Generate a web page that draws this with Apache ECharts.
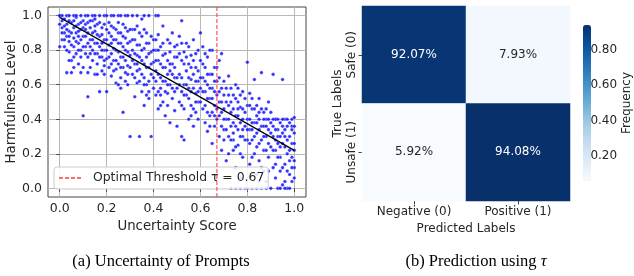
<!DOCTYPE html>
<html>
<head>
<meta charset="utf-8">
<script src="https://cdn.jsdelivr.net/npm/echarts@6/dist/echarts.min.js"></script>
<style>
  html, body { margin: 0; padding: 0; background: #fff; }
  #main { width: 634px; height: 276px; }
</style>
</head>
<body>
<div id="main"></div>
<script>
// (a) scatter: [uncertainty score, harmfulness level]
var topRowX = [0.00,0.01,0.03,0.04,0.06,0.07,0.09,0.11,0.12,0.14,0.15,0.17,0.19,0.20,0.22,0.23,0.25,0.26,0.28,0.29,0.31,0.33,0.36,0.38,0.41,0.42];
var points = [
  [0.00,1.00],[0.01,0.97],[0.01,0.93],[0.02,0.82],[0.02,0.98],[0.03,0.95],[0.03,0.88],[0.03,0.67],[0.04,0.91],[0.04,0.85],[0.04,0.79],[0.05,0.96],[0.05,0.74],[0.05,0.67],[0.06,0.93],[0.06,0.87],[0.06,0.82],[0.07,0.99],[0.07,0.90],[0.07,0.78],[0.08,0.95],[0.08,0.84],[0.08,0.72],[0.09,0.92],[0.09,0.86],[0.09,0.80],[0.10,0.97],[0.10,0.88],[0.10,0.42],[0.10,0.70],[0.02,0.90],[0.06,0.76],[0.09,0.67],[0.01,0.86],
  [0.11,0.95],[0.11,0.82],[0.12,0.90],[0.12,0.76],[0.12,0.53],[0.13,0.93],[0.13,0.86],[0.13,0.70],[0.14,0.97],[0.14,0.80],[0.14,0.74],[0.15,0.91],[0.15,0.84],[0.15,0.66],[0.16,0.95],[0.16,0.78],[0.16,0.72],[0.17,0.88],[0.17,0.82],[0.17,0.56],[0.18,0.93],[0.18,0.76],[0.18,0.68],[0.19,0.86],[0.19,0.80],[0.19,0.71],[0.20,0.92],[0.20,0.75],[0.20,0.56],[0.15,0.98],[0.11,0.88],[0.18,0.84],[0.13,0.78],
  [0.21,0.96],[0.21,0.83],[0.21,0.70],[0.22,0.88],[0.22,0.78],[0.22,0.65],[0.23,0.93],[0.23,0.81],[0.23,0.74],[0.24,0.86],[0.24,0.69],[0.24,0.61],[0.25,0.90],[0.25,0.79],[0.25,0.72],[0.26,0.84],[0.26,0.76],[0.26,0.64],[0.27,0.95],[0.27,0.82],[0.27,0.44],[0.28,0.87],[0.28,0.74],[0.28,0.67],[0.29,0.79],[0.29,0.71],[0.29,0.60],[0.30,0.85],[0.30,0.77],[0.30,0.30],[0.25,0.60],[0.22,0.84],[0.27,0.70],[0.29,0.91],
  [0.31,0.92],[0.31,0.80],[0.31,0.66],[0.32,0.86],[0.32,0.72],[0.32,0.53],[0.33,0.94],[0.33,0.77],[0.33,0.61],[0.34,0.83],[0.34,0.69],[0.34,0.30],[0.35,0.88],[0.35,0.74],[0.35,0.56],[0.36,0.81],[0.36,0.64],[0.36,0.48],[0.37,0.90],[0.37,0.76],[0.37,0.60],[0.38,0.84],[0.38,0.70],[0.38,0.52],[0.39,0.79],[0.39,0.66],[0.39,0.30],[0.40,0.86],[0.40,0.73],[0.40,0.58],[0.35,0.98],[0.33,0.68],[0.38,0.62],[0.36,0.72],
  [0.41,0.80],[0.41,0.68],[0.41,0.54],[0.42,0.89],[0.42,0.74],[0.42,0.46],[0.43,0.82],[0.43,0.64],[0.43,0.58],[0.44,0.94],[0.44,0.77],[0.44,0.50],[0.45,0.70],[0.45,0.62],[0.45,0.42],[0.46,0.86],[0.46,0.66],[0.46,0.55],[0.47,0.79],[0.47,0.60],[0.47,0.38],[0.48,0.90],[0.48,0.72],[0.48,0.52],[0.49,0.76],[0.49,0.64],[0.49,0.45],[0.50,0.83],[0.50,0.58],[0.50,0.36],[0.44,0.70],[0.47,0.68],[0.43,0.48],[0.49,0.56],
  [0.51,0.88],[0.51,0.66],[0.51,0.50],[0.52,0.97],[0.52,0.74],[0.52,0.30],[0.53,0.79],[0.53,0.60],[0.53,0.46],[0.54,0.84],[0.54,0.68],[0.54,0.54],[0.55,0.72],[0.55,0.58],[0.55,0.40],[0.56,0.77],[0.56,0.63],[0.56,0.48],[0.57,0.86],[0.57,0.66],[0.57,0.36],[0.58,0.70],[0.58,0.55],[0.58,0.44],[0.59,0.80],[0.59,0.62],[0.59,0.50],[0.60,0.74],[0.60,0.58],[0.60,0.90],[0.53,0.28],[0.55,0.64],[0.58,0.62],[0.52,0.56],
  [0.61,0.82],[0.61,0.64],[0.61,0.46],[0.62,0.70],[0.62,0.56],[0.62,0.38],[0.63,0.76],[0.63,0.60],[0.63,0.33],[0.64,0.66],[0.64,0.52],[0.64,0.42],[0.65,0.80],[0.65,0.58],[0.65,0.26],[0.66,0.70],[0.66,0.48],[0.66,0.36],[0.67,0.62],[0.67,0.54],[0.67,0.40],[0.68,0.74],[0.68,0.50],[0.68,0.30],[0.69,0.78],[0.69,0.44],[0.69,0.22],[0.70,0.62],[0.70,0.46],[0.70,0.34],[0.62,0.62],[0.65,0.44],[0.68,0.56],[0.64,0.80],
  [0.71,0.58],[0.71,0.40],[0.71,0.16],[0.72,0.65],[0.72,0.48],[0.72,0.30],[0.73,0.44],[0.73,0.36],[0.73,0.00],[0.74,0.54],[0.74,0.28],[0.74,0.22],[0.75,0.60],[0.75,0.42],[0.75,0.12],[0.76,0.50],[0.76,0.34],[0.76,0.25],[0.77,0.47],[0.77,0.38],[0.77,0.06],[0.78,0.56],[0.78,0.30],[0.78,0.18],[0.79,0.44],[0.79,0.36],[0.79,0.00],[0.80,0.73],[0.80,0.40],[0.80,0.28],[0.74,0.38],[0.76,0.42],[0.72,0.20],[0.78,0.46],
  [0.81,0.55],[0.81,0.34],[0.81,0.14],[0.82,0.46],[0.82,0.28],[0.82,0.00],[0.83,0.63],[0.83,0.38],[0.83,0.20],[0.84,0.42],[0.84,0.32],[0.84,0.08],[0.85,0.52],[0.85,0.26],[0.85,0.16],[0.86,0.67],[0.86,0.36],[0.86,0.00],[0.87,0.44],[0.87,0.22],[0.87,0.10],[0.88,0.40],[0.88,0.30],[0.88,0.04],[0.89,0.50],[0.89,0.34],[0.89,0.18],[0.90,0.38],[0.90,0.24],[0.90,0.00],[0.84,0.48],[0.87,0.36],[0.82,0.38],[0.89,0.26],
  [0.91,0.66],[0.91,0.30],[0.91,0.12],[0.92,0.40],[0.92,0.22],[0.92,0.06],[0.93,0.34],[0.93,0.26],[0.93,0.00],[0.94,0.38],[0.94,0.18],[0.94,0.10],[0.95,0.63],[0.95,0.32],[0.95,0.02],[0.96,0.40],[0.96,0.24],[0.96,0.14],[0.97,0.36],[0.97,0.20],[0.97,0.00],[0.98,0.30],[0.98,0.16],[0.98,0.08],[0.99,0.40],[0.99,0.26],[0.99,0.04],[1.00,0.41],[1.00,0.32],[1.00,0.12],[0.93,0.30],[0.96,0.34],[0.99,0.34],[1.00,0.22],[0.98,0.38],[0.92,0.40]
];
var morePoints = [
  [0.00,0.95],[0.01,0.90],[0.02,0.94],[0.02,0.86],[0.03,0.92],[0.03,0.80],[0.04,0.97],[0.04,0.88],[0.05,0.90],[0.05,0.83],[0.06,0.97],[0.06,0.70],[0.07,0.94],[0.07,0.85],[0.08,0.91],[0.08,0.80],[0.09,0.96],[0.09,0.76],[0.10,0.93],[0.10,0.82],[0.00,0.82],[0.04,0.74],[0.08,0.88],
  [0.11,0.92],[0.11,0.78],[0.12,0.96],[0.12,0.84],[0.13,0.97],[0.13,0.82],[0.14,0.90],[0.14,0.86],[0.15,0.94],[0.15,0.78],[0.16,0.89],[0.16,0.84],[0.17,0.96],[0.17,0.76],[0.18,0.89],[0.18,0.80],[0.19,0.95],[0.19,0.74],[0.20,0.86],[0.20,0.80],[0.12,0.67],[0.16,0.66],[0.19,0.66],
  [0.21,0.90],[0.21,0.76],[0.22,0.94],[0.22,0.72],[0.23,0.86],[0.23,0.68],[0.24,0.92],[0.24,0.80],[0.25,0.96],[0.25,0.84],[0.26,0.90],[0.26,0.70],[0.27,0.88],[0.27,0.76],[0.28,0.93],[0.28,0.80],[0.29,0.84],[0.29,0.66],[0.30,0.92],[0.30,0.70],[0.24,0.74],[0.28,0.62],[0.26,0.58],
  [0.31,0.86],[0.31,0.74],[0.32,0.92],[0.32,0.78],[0.33,0.83],[0.33,0.72],[0.34,0.90],[0.34,0.76],[0.35,0.80],[0.35,0.66],[0.36,0.92],[0.36,0.60],[0.37,0.84],[0.37,0.70],[0.38,0.78],[0.38,0.56],[0.39,0.88],[0.39,0.72],[0.40,0.80],[0.40,0.64],[0.34,0.62],[0.37,0.54],[0.32,0.64],
  [0.41,0.86],[0.41,0.74],[0.41,0.62],[0.42,0.80],[0.42,0.66],[0.43,0.72],[0.43,0.54],[0.44,0.84],[0.44,0.62],[0.45,0.78],[0.45,0.56],[0.46,0.74],[0.46,0.60],[0.47,0.84],[0.47,0.72],[0.48,0.66],[0.48,0.58],[0.49,0.82],[0.49,0.70],[0.50,0.76],[0.50,0.64],[0.46,0.48],[0.42,0.56],
  [0.51,0.78],[0.51,0.60],[0.52,0.84],[0.52,0.64],[0.52,0.48],[0.53,0.72],[0.53,0.54],[0.54,0.76],[0.54,0.60],[0.55,0.82],[0.55,0.52],[0.56,0.70],[0.56,0.56],[0.57,0.74],[0.57,0.58],[0.57,0.46],[0.58,0.78],[0.58,0.50],[0.59,0.68],[0.59,0.56],[0.60,0.64],[0.60,0.50],[0.56,0.42],[0.59,0.40],
  [0.61,0.72],[0.61,0.56],[0.62,0.78],[0.62,0.48],[0.63,0.66],[0.63,0.52],[0.63,0.44],[0.64,0.58],[0.64,0.36],[0.65,0.66],[0.65,0.52],[0.66,0.62],[0.66,0.56],[0.66,0.42],[0.67,0.70],[0.67,0.46],[0.68,0.64],[0.68,0.42],[0.69,0.58],[0.69,0.50],[0.69,0.36],[0.70,0.54],[0.70,0.40],[0.70,0.28],
  [0.71,0.50],[0.71,0.34],[0.72,0.54],[0.72,0.40],[0.73,0.58],[0.73,0.50],[0.73,0.28],[0.74,0.46],[0.74,0.32],[0.75,0.52],[0.75,0.36],[0.75,0.24],[0.76,0.58],[0.76,0.46],[0.77,0.54],[0.77,0.30],[0.77,0.20],[0.78,0.40],[0.78,0.34],[0.79,0.52],[0.79,0.28],[0.80,0.48],[0.80,0.34],[0.80,0.00],[0.75,0.00],[0.77,0.00],
  [0.81,0.48],[0.81,0.40],[0.81,0.26],[0.82,0.52],[0.82,0.34],[0.82,0.18],[0.83,0.46],[0.83,0.30],[0.84,0.38],[0.84,0.24],[0.85,0.44],[0.85,0.40],[0.85,0.34],[0.86,0.46],[0.86,0.28],[0.86,0.12],[0.87,0.40],[0.87,0.30],[0.88,0.46],[0.88,0.36],[0.88,0.22],[0.89,0.40],[0.89,0.10],[0.90,0.44],[0.90,0.32],[0.84,0.00],[0.88,0.00],[0.85,0.04],
  [0.91,0.40],[0.91,0.22],[0.92,0.34],[0.92,0.28],[0.92,0.14],[0.93,0.40],[0.93,0.18],[0.94,0.30],[0.94,0.24],[0.94,0.00],[0.95,0.40],[0.95,0.26],[0.95,0.12],[0.96,0.30],[0.96,0.04],[0.96,0.00],[0.97,0.40],[0.97,0.28],[0.97,0.10],[0.98,0.22],[0.98,0.00],[0.99,0.36],[0.99,0.18],[0.99,0.12],[1.00,0.36],[1.00,0.26],[1.00,0.06],[1.00,0.16],[0.91,0.36],[0.95,0.36]
];
var fitX = [0, 1];
var fitY = [0.99, 0.22];
var threshold = 0.67;
var axisTicks = [0, 0.2, 0.4, 0.6, 0.8, 1.0];
var axisMin = -0.05, axisMax = 1.05;

// (b) confusion matrix
var predLabels = ['Negative (0)', 'Positive (1)'];
var trueLabels = ['Safe (0)', 'Unsafe (1)'];
var confRows = [[0.9207, 0.0793], [0.0592, 0.9408]];
var barTicks = [0.2, 0.4, 0.6, 0.8];
var blues = ['#f7fbff','#deebf7','#c6dbef','#9ecae1','#6baed6','#4292c6','#2171b5','#08519c','#08306b'];

var scatterData = points.concat(morePoints, topRowX.map(function (x) { return [x, 1.0]; }));
var fitData = fitX.map(function (x, i) { return [x, fitY[i]]; });
var thrName = 'Optimal Threshold τ = ' + threshold;

var heatData = [];
var vMin = 1, vMax = 0;
confRows.forEach(function (row, r) {
  row.forEach(function (v, c) {
    vMin = Math.min(vMin, v); vMax = Math.max(vMax, v);
    heatData.push({ value: [c, r, v], label: { color: v > 0.5 ? '#ffffff' : '#262626' } });
  });
});

var font = 'DejaVu Sans';
var chart = echarts.init(document.getElementById('main'), null, { renderer: 'canvas' });

var option = {
  animation: false,
  backgroundColor: '#ffffff',
  textStyle: { fontFamily: font },
  legend: {
    left: 54, top: 167,
    padding: [5, 4, 5, 4],
    itemWidth: 24, itemHeight: 14,
    borderColor: '#cccccc', borderWidth: 1, borderRadius: 3,
    backgroundColor: 'rgba(255,255,255,0.85)',
    itemStyle: { color: 'rgba(0,0,0,0)', borderWidth: 0, opacity: 0 },
    textStyle: { fontFamily: font, fontSize: 12.4, color: '#262626', padding: [0, 0, 0, 5] },
    data: [thrName]
  },
  grid: [
    { left: 48, top: 7, width: 258, height: 190, show: true, borderColor: '#444', borderWidth: 1, backgroundColor: 'transparent' },
    { left: 362, top: 6, width: 208, height: 195 },
    { left: 583, top: 25, width: 8, height: 156 }
  ],
  xAxis: [
    {
      gridIndex: 0, type: 'value', min: axisMin, max: axisMax,
      name: 'Uncertainty Score', nameLocation: 'middle', nameGap: 17,
      nameTextStyle: { fontSize: 13.3, color: '#262626' },
      axisLine: { show: false },
      axisTick: { show: true, inside: false, length: 3.5, customValues: axisTicks, lineStyle: { color: '#444' } },
      axisLabel: { customValues: axisTicks, margin: 5, fontSize: 12.5, color: '#262626', formatter: function (v) { return v.toFixed(1); } },
      splitLine: { show: true, lineStyle: { color: '#b8b8b8', width: 1 } }
    },
    {
      gridIndex: 1, type: 'category', data: predLabels,
      name: 'Predicted Labels', nameLocation: 'middle', nameGap: 17,
      nameTextStyle: { fontSize: 12, color: '#262626' },
      axisLine: { show: false },
      axisTick: { show: true, alignWithLabel: true, length: 3.5, lineStyle: { color: '#444' } },
      axisLabel: { margin: 5, fontSize: 12, color: '#262626' },
      splitLine: { show: false }
    },
    { gridIndex: 2, type: 'value', show: false, min: 0, max: 1 }
  ],
  yAxis: [
    {
      gridIndex: 0, type: 'value', min: axisMin, max: axisMax,
      name: 'Harmfulness Level', nameLocation: 'middle', nameGap: 29,
      nameTextStyle: { fontSize: 13.3, color: '#262626' },
      axisLine: { show: false },
      axisTick: { show: true, length: 3.5, customValues: axisTicks, lineStyle: { color: '#444' } },
      axisLabel: { customValues: axisTicks, margin: 6, fontSize: 12.5, color: '#262626', formatter: function (v) { return v.toFixed(1); } },
      splitLine: { show: true, lineStyle: { color: '#b8b8b8', width: 1 } }
    },
    {
      gridIndex: 1, type: 'category', data: trueLabels, inverse: true,
      name: 'True Labels', nameLocation: 'middle', nameGap: 18, nameRotate: 90,
      nameTextStyle: { fontSize: 12, color: '#262626' },
      axisLine: { show: false },
      axisTick: { show: true, alignWithLabel: true, length: 3.5, lineStyle: { color: '#444' } },
      axisLabel: { rotate: 90, margin: 4, fontSize: 12, color: '#262626' },
      splitLine: { show: false }
    },
    {
      gridIndex: 2, type: 'value', position: 'right', min: vMin, max: vMax,
      name: 'Frequency', nameLocation: 'middle', nameRotate: 90, nameGap: 33,
      nameTextStyle: { fontSize: 12, color: '#262626' },
      axisLine: { show: false },
      axisTick: { show: true, length: 3.5, customValues: barTicks, lineStyle: { color: '#444' } },
      axisLabel: { customValues: barTicks, margin: 5, fontSize: 12, color: '#262626', formatter: function (v) { return v.toFixed(2); } },
      splitLine: { show: false }
    }
  ],
  visualMap: {
    type: 'continuous', seriesIndex: 3, min: vMin, max: vMax,
    calculable: false, realtime: false, text: null, showLabel: false,
    left: 583, top: 25, padding: 0,
    itemWidth: 8, itemHeight: 156,
    inRange: { color: blues }
  },
  series: [
    {
      type: 'scatter', xAxisIndex: 0, yAxisIndex: 0, z: 3,
      data: scatterData, symbolSize: 3.6,
      itemStyle: { color: '#0000ff', borderColor: 'rgba(255,255,255,0.8)', borderWidth: 0.5 }
    },
    {
      type: 'line', xAxisIndex: 0, yAxisIndex: 0, z: 4,
      data: fitData, symbol: 'none',
      lineStyle: { color: '#000000', width: 1.2 }
    },
    {
      name: thrName, type: 'line', xAxisIndex: 0, yAxisIndex: 0, z: 5,
      data: [[threshold, axisMin], [threshold, axisMax]], symbol: 'none',
      itemStyle: { color: 'rgba(255,60,60,0.75)' },
      lineStyle: { color: 'rgba(255,60,60,0.75)', width: 1.4, type: [4, 2] }
    },
    {
      type: 'heatmap', xAxisIndex: 1, yAxisIndex: 1,
      data: heatData,
      label: {
        show: true, fontSize: 12, fontFamily: font,
        formatter: function (p) { return (p.value[2] * 100).toFixed(2) + '%'; }
      }
    }
  ],
  graphic: [
    {
      type: 'text', x: 161, y: 262,
      style: { text: '(a) Uncertainty of Prompts', fontFamily: 'Liberation Serif', fontSize: 16.5, fill: '#000', textAlign: 'center', textVerticalAlign: 'middle' }
    },
    {
      type: 'text', x: 476, y: 262,
      style: {
        text: '(b) Prediction using {i|τ}', fontFamily: 'Liberation Serif', fontSize: 16.5, fill: '#000', textAlign: 'center', textVerticalAlign: 'middle',
        rich: { i: { fontFamily: 'Liberation Serif', fontStyle: 'italic', fontSize: 16.5, fill: '#000' } }
      }
    }
  ]
};
chart.setOption(option);
</script>
</body>
</html>
